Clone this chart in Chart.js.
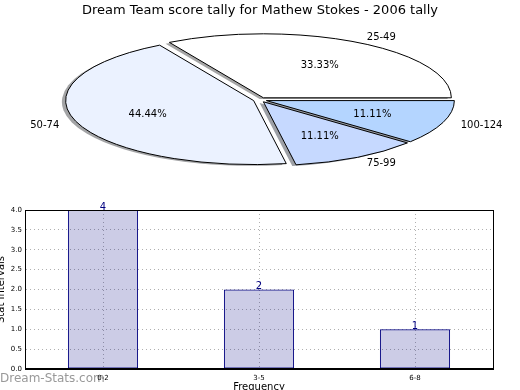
<!DOCTYPE html>
<html>
<head>
<meta charset="utf-8">
<script src="https://cdn.jsdelivr.net/npm/chart.js@4.4.0/dist/chart.umd.min.js"></script>
<style>
  html, body { margin: 0; padding: 0; background: #fff; }
  #wrap { position: relative; width: 520px; height: 390px; overflow: hidden; }
  #pieBox { position: absolute; left: 0; top: 0; width: 520px; height: 190px; }
  #barBox { position: absolute; left: 0; top: 190px; width: 520px; height: 200px; }
</style>
</head>
<body>
<div id="wrap">
  <div id="pieBox"><canvas id="pieChart"></canvas></div>
  <div id="barBox"><canvas id="barChart"></canvas></div>
</div>
<script>
// pie: score ranges and how many games fell in each
const pieLabels = ['25-49', '50-74', '75-99', '100-124'];
const pieCounts = [3, 4, 1, 1];
const pieColors = ['#ffffff', '#ebf2ff', '#c6d9ff', '#b4d5ff'];

// bar: frequency buckets
const barLabels = ['0-2', '3-5', '6-8'];
const barValues = [4, 2, 1];

const FONT = "'DejaVu Sans', sans-serif";
Chart.defaults.font.family = FONT;
Chart.defaults.animation = false;

const SQUASH = 64 / 188;   // pie is drawn as a flattened ellipse
const EXPLODE = 0.036;
const SHADOW = 0.02;

function shadowOf(hex) {
  const n = parseInt(hex.slice(1), 16);
  const r = Math.round(((n >> 16) & 255) * 0.3);
  const g = Math.round(((n >> 8) & 255) * 0.3);
  const b = Math.round((n & 255) * 0.3);
  return `rgba(${r},${g},${b},0.5)`;
}

const ellipsePie = {
  id: 'ellipsePie',
  beforeDatasetsDraw(chart) {
    const ctx = chart.ctx;
    const arcs = chart.getDatasetMeta(0).data;
    const total = pieCounts.reduce((a, b) => a + b, 0);
    const geo = arcs.map(arc => {
      const mid = (arc.startAngle + arc.endAngle) / 2;
      const rx = arc.outerRadius, ry = rx * SQUASH;
      return {
        arc, mid, rx, ry,
        cx: arc.x + EXPLODE * rx * Math.cos(mid),
        cy: arc.y - EXPLODE * ry * Math.sin(mid)
      };
    });
    const wedge = (g, dx, dy) => {
      ctx.beginPath();
      ctx.moveTo(g.cx + dx, g.cy + dy);
      ctx.ellipse(g.cx + dx, g.cy + dy, g.rx, g.ry, 0, -g.arc.startAngle, -g.arc.endAngle, true);
      ctx.closePath();
    };
    ctx.save();
    geo.forEach((g, i) => {
      wedge(g, -SHADOW * g.rx, SHADOW * g.ry);
      ctx.fillStyle = shadowOf(pieColors[i]);
      ctx.fill();
    });
    geo.forEach((g, i) => {
      wedge(g, 0, 0);
      ctx.fillStyle = pieColors[i];
      ctx.fill();
      ctx.lineWidth = 1;
      ctx.strokeStyle = '#000';
      ctx.stroke();
    });
    ctx.font = '10px ' + FONT;
    ctx.fillStyle = '#000';
    ctx.textBaseline = 'middle';
    geo.forEach((g, i) => {
      const c = Math.cos(g.mid), s = Math.sin(g.mid);
      ctx.textAlign = c > 0 ? 'left' : 'right';
      ctx.fillText(pieLabels[i], g.cx + 1.1 * g.rx * c, g.cy - 1.1 * g.ry * s + 1);
      ctx.textAlign = 'center';
      ctx.fillText((pieCounts[i] / total * 100).toFixed(2) + '%', g.cx + 0.6 * g.rx * c, g.cy - 0.6 * g.ry * s + 1);
    });
    ctx.restore();
    return false;
  }
};

new Chart(document.getElementById('pieChart'), {
  type: 'pie',
  data: {
    labels: pieLabels,
    datasets: [{ data: pieCounts, backgroundColor: pieColors, borderColor: '#000', borderWidth: 1 }]
  },
  options: {
    responsive: true,
    maintainAspectRatio: false,
    rotation: 90,
    radius: 188,
    layout: { padding: { top: 0, bottom: 9, left: 0, right: 0 } },
    plugins: {
      legend: { display: false },
      tooltip: { enabled: false },
      title: {
        display: true,
        text: 'Dream Team score tally for Mathew Stokes - 2006 tally',
        color: '#000',
        font: { size: 13, weight: 'normal', lineHeight: 1.2 },
        padding: { top: 3, bottom: 0 }
      }
    }
  },
  plugins: [ellipsePie]
});

const barExtras = {
  id: 'barExtras',
  beforeDraw(chart) {
    const ctx = chart.ctx;
    ctx.save();
    ctx.font = '12px ' + FONT;
    ctx.fillStyle = '#999';
    ctx.textBaseline = 'alphabetic';
    ctx.textAlign = 'left';
    ctx.fillText('Dream-Stats.com', 0, 192);
    ctx.restore();
  },
  afterDatasetsDraw(chart) {
    const { ctx, chartArea: a } = chart;
    ctx.save();
    ctx.strokeStyle = '#000';
    ctx.lineWidth = 1;
    const l = Math.round(a.left) + 0.5, r = Math.round(a.right) + 0.5;
    const t = Math.round(a.top) + 0.5, b = Math.round(a.bottom) - 0.5;
    ctx.strokeRect(l, t, r - l, b - t);
    ctx.font = '10px ' + FONT;
    ctx.fillStyle = '#000080';
    ctx.textAlign = 'center';
    ctx.textBaseline = 'alphabetic';
    chart.getDatasetMeta(0).data.forEach((bar, i) => {
      ctx.fillText(String(barValues[i]), bar.x, bar.y - 0.5);
    });
    ctx.restore();
  }
};

const gridStyle = { color: '#b0b0b0', lineWidth: 1, drawTicks: false };

new Chart(document.getElementById('barChart'), {
  type: 'bar',
  data: {
    labels: barLabels,
    datasets: [{
      data: barValues,
      backgroundColor: 'rgba(0,0,128,0.2)',
      borderColor: '#000080',
      borderWidth: 1,
      borderSkipped: false,
      categoryPercentage: 1,
      barPercentage: 0.45
    }]
  },
  options: {
    responsive: true,
    maintainAspectRatio: false,
    layout: { padding: { top: 20, right: 27, left: 0, bottom: 0 } },
    plugins: { legend: { display: false }, tooltip: { enabled: false } },
    scales: {
      x: {
        grid: Object.assign({ offset: false }, gridStyle),
        border: { display: true, color: '#000', width: 1, dash: [1, 3] },
        ticks: { font: { size: 7 }, color: '#000', padding: 5 },
        title: {
          display: true, text: 'Frequency', color: '#000',
          font: { size: 10, lineHeight: 1 }, padding: { top: 0, bottom: -2 }
        },
        afterFit(s) { s.height = 21; }
      },
      y: {
        min: 0, max: 4,
        grid: gridStyle,
        border: { display: true, color: '#000', width: 1, dash: [1, 3] },
        ticks: {
          stepSize: 0.5, font: { size: 7 }, color: '#000', padding: 3,
          callback: v => v.toFixed(1)
        },
        title: {
          display: true, text: 'Stat Intervals', color: '#000',
          font: { size: 10, lineHeight: 1 }, padding: { top: -3.5, bottom: 0 }
        },
        afterFit(s) { s.width = 25; }
      }
    }
  },
  plugins: [barExtras]
});
</script>
</body>
</html>
